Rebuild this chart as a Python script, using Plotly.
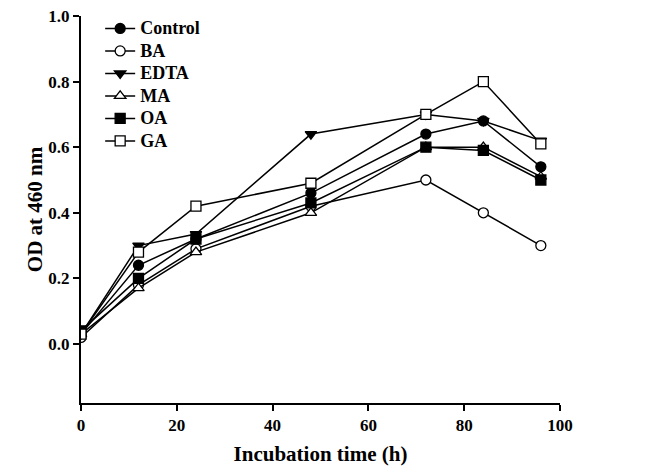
import plotly.graph_objects as go

time_h = [0, 12, 24, 48, 72, 84, 96]
control = [0.03, 0.24, 0.32, 0.46, 0.64, 0.68, 0.54]
ba = [0.02, 0.18, 0.29, 0.42, 0.50, 0.40, 0.30]
edta = [0.03, 0.30, 0.335, 0.64, 0.70, 0.68, 0.62]
ma = [0.03, 0.17, 0.28, 0.40, 0.60, 0.60, 0.51]
oa = [0.04, 0.20, 0.32, 0.43, 0.60, 0.59, 0.50]
ga = [0.03, 0.28, 0.42, 0.49, 0.70, 0.80, 0.61]

x_ticks = [0, 20, 40, 60, 80, 100]
y_ticks = [0.0, 0.2, 0.4, 0.6, 0.8, 1.0]

series = [
    ("Control", control, "circle", "black"),
    ("BA", ba, "circle", "white"),
    ("EDTA", edta, "triangle-down", "black"),
    ("MA", ma, "triangle-up", "white"),
    ("OA", oa, "square", "black"),
    ("GA", ga, "square", "white"),
]

fig = go.Figure()
for name, vals, sym, fill in series:
    fig.add_trace(go.Scatter(
        x=time_h, y=vals,
        name="<span style='font-size:18px'><b>" + name + "</b></span>",
        mode="lines+markers",
        line=dict(color="black", width=1.5),
        marker=dict(symbol=sym, size=10, color=fill,
                    line=dict(color="black", width=1.3)),
    ))

font_family = "Liberation Serif"
fig.update_layout(
    width=646, height=468,
    margin=dict(l=81, r=86, t=16, b=65, autoexpand=False),
    paper_bgcolor="white", plot_bgcolor="white",
    font=dict(family=font_family, color="black", size=16),
    showlegend=True,
    legend=dict(x=0.04, y=1.01, xanchor="left", yanchor="top",
                bgcolor="rgba(0,0,0,0)",
                font=dict(family=font_family, size=15, color="black"),
                tracegroupgap=0),
)
fig.update_xaxes(
    range=[0, 100], tickvals=x_ticks,
    ticktext=["<b>%d</b>" % v for v in x_ticks],
    ticks="outside", ticklen=6, tickwidth=1.5, tickcolor="black",
    showline=True, linecolor="black", linewidth=2,
    showgrid=False, zeroline=False, automargin=False,
    tickfont=dict(family=font_family, size=17, color="black"),
    title=dict(text="<b>Incubation time (h)</b>",
               font=dict(family=font_family, size=21, color="black"), standoff=12),
)
fig.update_yaxes(
    range=[-0.18, 1.0], tickvals=y_ticks,
    ticktext=["<b>%.1f</b>" % v for v in y_ticks],
    ticks="outside", ticklen=6, tickwidth=1.5, tickcolor="black",
    showline=True, linecolor="black", linewidth=2,
    showgrid=False, zeroline=False, automargin=False,
    tickfont=dict(family=font_family, size=17, color="black"),
    title=dict(text="<b>OD at 460 nm</b>",
               font=dict(family=font_family, size=21, color="black"), standoff=0),
)
fig.write_html("out.html",
               config={"displayModeBar": False},
               post_script="document.body.style.margin='0';document.body.style.overflow='hidden';")
